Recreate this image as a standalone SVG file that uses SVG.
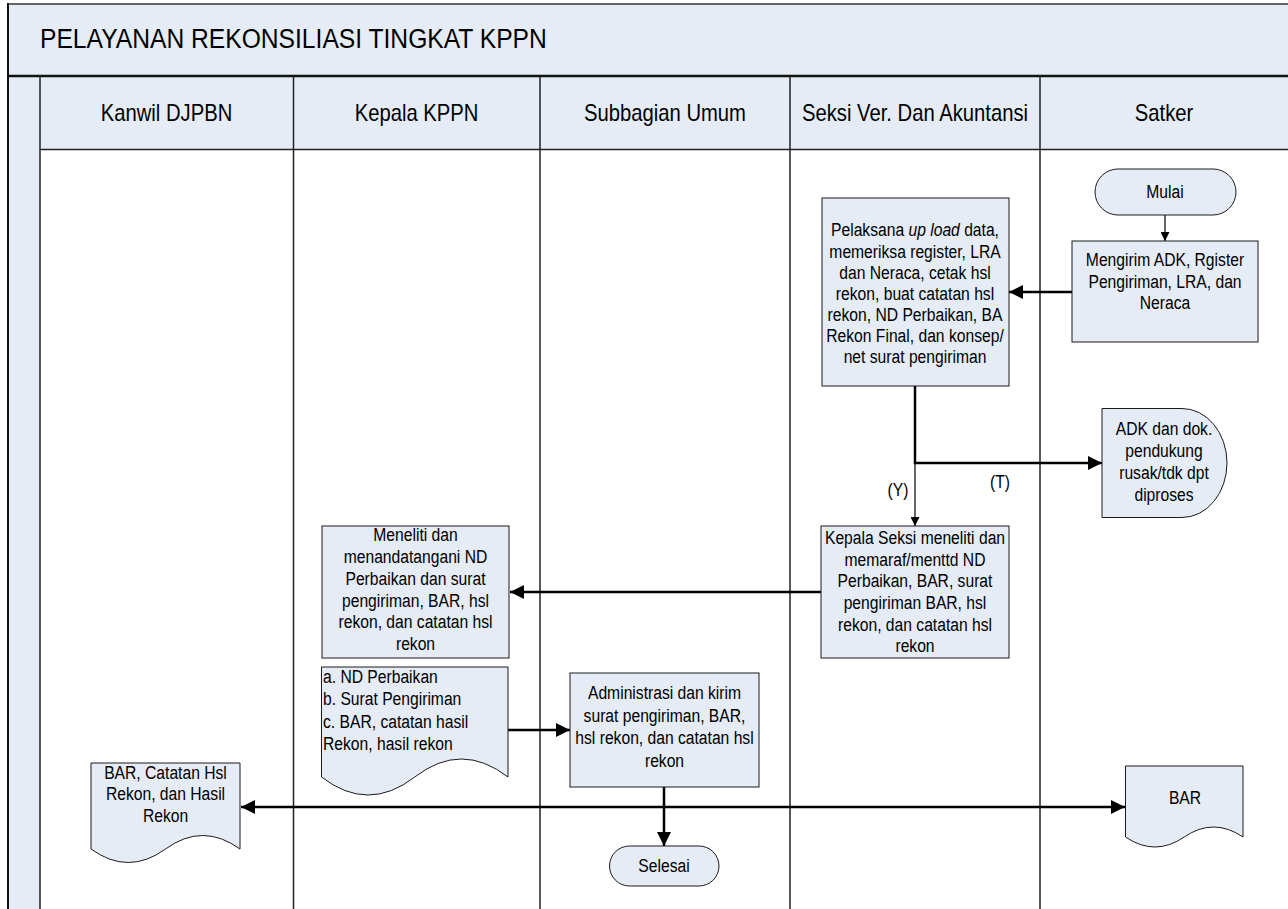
<svg xmlns="http://www.w3.org/2000/svg" width="1288" height="909" viewBox="0 0 1288 909">
<style>
.t{font-family:"Liberation Sans",Arial,sans-serif;font-size:18px;fill:#000}
.hd{font-size:23px}
.ti{font-size:28px}
.fill{fill:#e5ecf6}
.box{fill:#e5ecf6;stroke:#1a1a1a;stroke-width:1}
.lane{stroke:#222;stroke-width:1.5;fill:none}
.thick{stroke:#000;stroke-width:2.5;fill:none}
.thin{stroke:#000;stroke-width:1.2;fill:none}
</style>
<defs>
<marker id="ah" markerUnits="userSpaceOnUse" markerWidth="14" markerHeight="14" viewBox="0 0 14 14" refX="14" refY="7" orient="auto"><path d="M0,0 L14,7 L0,14 Z" fill="#000"/></marker>
<marker id="as" markerUnits="userSpaceOnUse" markerWidth="9" markerHeight="9" viewBox="0 0 9 9" refX="9" refY="4.5" orient="auto"><path d="M0,0 L9,4.5 L0,9 Z" fill="#000"/></marker>
</defs>
<rect x="0" y="0" width="1288" height="909" fill="#fff"/>
<g id="frame">
<rect class="fill" x="8" y="4" width="1280" height="71"/>
<line x1="8" y1="4" x2="1288" y2="4" stroke="#666" stroke-width="2"/>
<rect class="fill" x="8" y="75" width="32" height="834"/>
<rect class="fill" x="40" y="75" width="1248" height="75"/>
<line x1="8" y1="76" x2="1288" y2="76" stroke="#111" stroke-width="2.5"/>
<line x1="40" y1="149.5" x2="1288" y2="149.5" class="lane"/>
<line x1="8" y1="3" x2="8" y2="909" stroke="#111" stroke-width="2"/>
<line x1="40" y1="76" x2="40" y2="909" class="lane"/>
<line x1="293.5" y1="76" x2="293.5" y2="909" class="lane"/>
<line x1="540" y1="76" x2="540" y2="909" class="lane"/>
<line x1="790" y1="76" x2="790" y2="909" class="lane"/>
<line x1="1040" y1="76" x2="1040" y2="909" class="lane"/>
<text class="t ti" transform="translate(40,0) scale(0.88,1)" x="0" y="48">PELAYANAN REKONSILIASI TINGKAT KPPN</text>
<text class="t hd" text-anchor="middle" transform="translate(166.5,0) scale(0.88,1)" x="0" y="121">Kanwil DJPBN</text>
<text class="t hd" text-anchor="middle" transform="translate(416.5,0) scale(0.88,1)" x="0" y="121">Kepala KPPN</text>
<text class="t hd" text-anchor="middle" transform="translate(665,0) scale(0.88,1)" x="0" y="121">Subbagian Umum</text>
<text class="t hd" text-anchor="middle" transform="translate(915,0) scale(0.88,1)" x="0" y="121">Seksi Ver. Dan Akuntansi</text>
<text class="t hd" text-anchor="middle" transform="translate(1164,0) scale(0.88,1)" x="0" y="121">Satker</text>
</g>
<g id="connectors">
<path class="thin" d="M1165,215 V241" marker-end="url(#as)"/>
<path class="thick" d="M1072,292 H1009" marker-end="url(#ah)"/>
<path class="thick" d="M915,386 V463 H1102" marker-end="url(#ah)"/>
<path class="thin" d="M915,463 V526" marker-end="url(#as)"/>
<path class="thick" d="M821,592 H510" marker-end="url(#ah)"/>
<path class="thick" d="M508,730 H570" marker-end="url(#ah)"/>
<path class="thick" d="M664,787 V846" marker-end="url(#ah)"/>
<path class="thick" d="M664,807 H241" marker-end="url(#ah)"/>
<path class="thick" d="M664,807 H1125" marker-end="url(#ah)"/>
<text class="t" text-anchor="middle" transform="translate(898,0) scale(0.87,1)" x="0" y="496">(Y)</text>
<text class="t" text-anchor="middle" transform="translate(1000,0) scale(0.87,1)" x="0" y="488">(T)</text>
</g>
<g id="mulai">
<rect class="box" x="1095" y="169" width="141" height="46" rx="23"/>
<text class="t" text-anchor="middle" transform="translate(1165,0) scale(0.87,1)" x="0" y="198.5">Mulai</text>
</g>
<g id="mengirim">
<rect class="box" x="1072" y="241" width="186" height="101"/>
<text class="t" text-anchor="middle" transform="translate(1165,0) scale(0.87,1)"><tspan x="0" y="266.5">Mengirim ADK, Rgister</tspan><tspan x="0" y="288">Pengiriman, LRA, dan</tspan><tspan x="0" y="309.5">Neraca</tspan></text>
</g>
<g id="pelaksana">
<rect class="box" x="822" y="198" width="187" height="188"/>
<text class="t" text-anchor="middle" transform="translate(915,0) scale(0.87,1)"><tspan x="0" y="236.5">Pelaksana <tspan font-style="italic">up load</tspan> data,</tspan><tspan x="0" y="257.6">memeriksa register, LRA</tspan><tspan x="0" y="278.7">dan Neraca, cetak hsl</tspan><tspan x="0" y="299.8">rekon, buat catatan hsl</tspan><tspan x="0" y="320.9">rekon, ND Perbaikan, BA</tspan><tspan x="0" y="342">Rekon Final, dan konsep/</tspan><tspan x="0" y="363.1">net surat pengiriman</tspan></text>
</g>
<g id="adk">
<path class="box" d="M1102,408.5 H1182 A45,54.5 0 0 1 1182,517.5 H1102 Z"/>
<text class="t" text-anchor="middle" transform="translate(1164,0) scale(0.87,1)"><tspan x="0" y="435.5">ADK dan dok.</tspan><tspan x="0" y="457.5">pendukung</tspan><tspan x="0" y="479.5">rusak/tdk dpt</tspan><tspan x="0" y="501.3">diproses</tspan></text>
</g>
<g id="kepala-seksi">
<rect class="box" x="821" y="526" width="188" height="132"/>
<text class="t" text-anchor="middle" transform="translate(915,0) scale(0.87,1)"><tspan x="0" y="544">Kepala Seksi meneliti dan</tspan><tspan x="0" y="565.7">memaraf/menttd ND</tspan><tspan x="0" y="587.4">Perbaikan, BAR, surat</tspan><tspan x="0" y="609.1">pengiriman BAR, hsl</tspan><tspan x="0" y="630.8">rekon, dan catatan hsl</tspan><tspan x="0" y="652.5">rekon</tspan></text>
</g>
<g id="meneliti">
<rect class="box" x="322" y="526" width="187" height="132"/>
<text class="t" text-anchor="middle" transform="translate(415.5,0) scale(0.87,1)"><tspan x="0" y="541.5">Meneliti dan</tspan><tspan x="0" y="563.2">menandatangani ND</tspan><tspan x="0" y="584.9">Perbaikan dan surat</tspan><tspan x="0" y="606.6">pengiriman, BAR, hsl</tspan><tspan x="0" y="628.3">rekon, dan catatan hsl</tspan><tspan x="0" y="650">rekon</tspan></text>
</g>
<g id="dokumen">
<path class="box" d="M321.5,667 H508 V777 Q461.4,741 414.75,777 Q368.1,813 321.5,777 Z"/>
<text class="t" transform="translate(323,0) scale(0.87,1)"><tspan x="0" y="683">a. ND Perbaikan</tspan><tspan x="0" y="705.5">b. Surat Pengiriman</tspan><tspan x="0" y="728">c. BAR, catatan hasil</tspan><tspan x="0" y="750.5">Rekon, hasil rekon</tspan></text>
</g>
<g id="administrasi">
<rect class="box" x="570" y="673" width="189" height="114"/>
<text class="t" text-anchor="middle" transform="translate(664.5,0) scale(0.87,1)"><tspan x="0" y="699.5">Administrasi dan kirim</tspan><tspan x="0" y="722">surat pengiriman, BAR,</tspan><tspan x="0" y="744.5">hsl rekon, dan catatan hsl</tspan><tspan x="0" y="767">rekon</tspan></text>
</g>
<g id="selesai">
<rect class="box" x="609.5" y="846" width="109.5" height="40" rx="20"/>
<text class="t" text-anchor="middle" transform="translate(664,0) scale(0.87,1)" x="0" y="872.3">Selesai</text>
</g>
<g id="bar-kanwil">
<path class="box" d="M91,763 H240 V849 Q202.75,822 165.5,849 Q128.25,876 91,849 Z"/>
<text class="t" text-anchor="middle" transform="translate(165.5,0) scale(0.87,1)"><tspan x="0" y="779">BAR, Catatan Hsl</tspan><tspan x="0" y="800.5">Rekon, dan Hasil</tspan><tspan x="0" y="822">Rekon</tspan></text>
</g>
<g id="bar-satker">
<path class="box" d="M1125.5,766 H1243 V837 Q1213.6,817 1184.25,837 Q1154.9,857 1125.5,837 Z"/>
<text class="t" text-anchor="middle" transform="translate(1185,0) scale(0.87,1)" x="0" y="804.5">BAR</text>
</g>
</svg>
